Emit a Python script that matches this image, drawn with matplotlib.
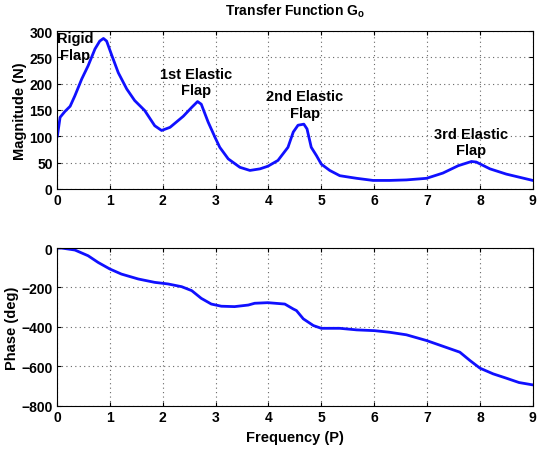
import matplotlib
matplotlib.use("Agg")
import matplotlib.pyplot as plt
import numpy as np

plt.rcParams['font.family'] = ['Liberation Sans', 'DejaVu Sans']
plt.rcParams['font.weight'] = 'bold'
plt.rcParams['mathtext.fontset'] = 'custom'
plt.rcParams['mathtext.bf'] = 'Liberation Sans:bold'

# magnitude curve
mag_freq = [0.0, 0.01, 0.06, 0.15, 0.25, 0.34, 0.47, 0.59, 0.72, 0.81, 0.88, 0.94, 1.03,
            1.16, 1.32, 1.47, 1.66, 1.85, 1.98, 2.14, 2.39, 2.55, 2.66, 2.73, 2.86, 2.99,
            3.08, 3.24, 3.46, 3.65, 3.84, 3.99, 4.18, 4.37, 4.47, 4.56, 4.67, 4.73, 4.81,
            4.91, 5.00, 5.16, 5.35, 5.54, 5.67, 5.98, 6.29, 6.61, 6.99, 7.30, 7.59, 7.84,
            7.93, 8.19, 8.50, 8.75, 9.0]
mag_vals = [98, 101, 136, 147, 157, 177, 209, 234, 266, 281, 286, 281, 256,
            221, 190, 168, 149, 120, 111, 117, 138, 155, 166, 161, 127, 98,
            79, 57, 41, 35, 38, 43, 54, 79, 108, 121, 123, 114, 79,
            63, 47, 35, 25, 22, 20, 16, 16, 17, 20, 30, 44, 52,
            51, 38, 28, 22, 16]

# phase curve
ph_freq = [0.0, 0.09, 0.34, 0.59, 0.78, 1.00, 1.22, 1.54, 1.85, 2.10, 2.36, 2.55, 2.73,
           2.92, 3.11, 3.36, 3.62, 3.74, 3.99, 4.31, 4.47, 4.53, 4.66, 4.85, 5.00, 5.35,
           5.67, 6.01, 6.29, 6.61, 6.99, 7.30, 7.62, 7.81, 8.00, 8.25, 8.50, 8.74, 9.0]
ph_vals = [0, 0, -10, -39, -73, -106, -132, -157, -174, -182, -196, -216, -255,
           -284, -295, -297, -289, -280, -277, -284, -309, -317, -359, -393, -407, -407,
           -415, -419, -427, -440, -469, -498, -528, -570, -609, -638, -660, -682, -694]

peak_labels = ['Rigid\nFlap', '1st Elastic\nFlap', '2nd Elastic\nFlap', '3rd Elastic\nFlap']
label_x = [0.34, 2.63, 4.69, 7.83]
label_y = [271, 203, 161, 89]

fig = plt.figure(figsize=(5.42, 4.52), dpi=100)
ax1 = fig.add_axes([0.105, 0.580, 0.878, 0.349])
ax2 = fig.add_axes([0.105, 0.100, 0.878, 0.349])

ax1.plot(mag_freq, mag_vals, color='#1010ff', lw=2)
ax2.plot(ph_freq, ph_vals, color='#1010ff', lw=2)

for t, x, y in zip(peak_labels, label_x, label_y):
    ax1.text(x, y, t, ha='center', va='center', fontsize=10.5, fontweight='bold',
             linespacing=1.25)

ax1.set_xlim(0, 9)
ax1.set_ylim(0, 300)
ax1.set_yticks(np.arange(0, 301, 50))
ax2.set_xlim(0, 9)
ax2.set_ylim(-800, 0)
ax2.set_yticks(np.arange(-800, 1, 200))

for ax in (ax1, ax2):
    ax.set_xticks(range(10))
    ax.grid(True, color='#666666', linestyle=(0, (1, 3)), linewidth=0.8)
    ax.tick_params(labelsize=10, direction='in', length=3, top=True, right=True,
                   width=0.8, pad=3)
    for lbl in ax.get_xticklabels() + ax.get_yticklabels():
        lbl.set_fontweight('bold')
    for s in ax.spines.values():
        s.set_linewidth(0.8)

ax1.set_ylabel('Magnitude (N)', fontsize=10.5, fontweight='bold', labelpad=2)
ax2.set_ylabel('Phase (deg)', fontsize=10.5, fontweight='bold', labelpad=2)
ax2.set_xlabel('Frequency (P)', fontsize=10.5, fontweight='bold', labelpad=4)
ax1.set_title(r'Transfer Function G$_\mathbf{o}$', fontsize=10, fontweight='bold', pad=12)

fig.savefig('out.png', dpi=100)
